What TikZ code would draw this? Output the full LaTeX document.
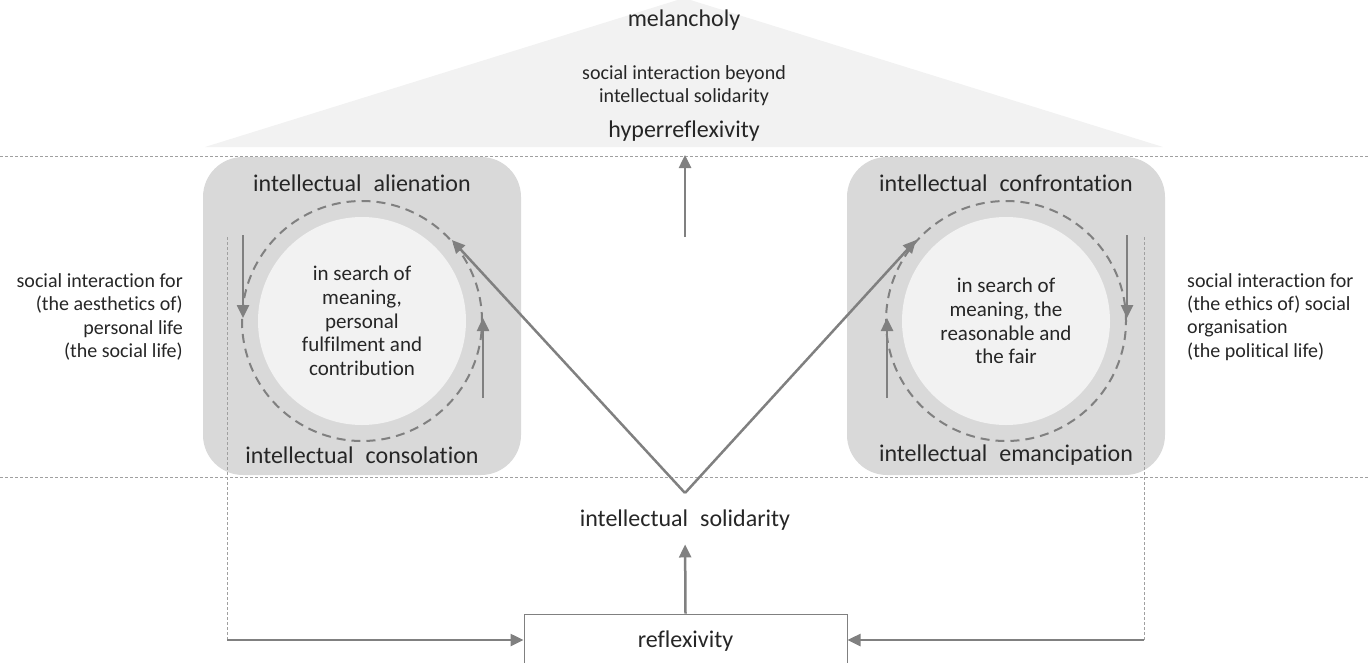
\documentclass[tikz,border=0pt]{standalone}
\usepackage{fontspec}
\setmainfont{Carlito}[RawFeature={-liga;-clig;-calt;-dlig}]
\usetikzlibrary{arrows.meta, positioning}

\definecolor{linegray}{HTML}{808080}
\definecolor{guidegray}{HTML}{A0A0A0}
\definecolor{boxgray}{HTML}{D9D9D9}
\definecolor{palegray}{HTML}{F2F2F2}
\definecolor{inkgray}{HTML}{262626}

\newcommand{\bigfont}{\fontsize{24}{28}\selectfont\spaceskip=0.5em\relax}
\newcommand{\smallfont}{\fontsize{20}{23.3}\selectfont}
\newcommand{\corefont}{\fontsize{21}{23.7}\selectfont}

\tikzset{
    bigtxt/.style={font=\bigfont, text=inkgray, inner sep=0pt},
    smalltxt/.style={font=\smallfont, text=inkgray, inner sep=0pt},
    roundbox/.style={fill=boxgray, rounded corners=40pt, minimum width=318pt, minimum height=318pt, inner sep=0pt},
    core/.style={circle, fill=palegray, minimum size=208pt, inner sep=0pt, font=\corefont, text=inkgray, align=center},
    ring/.style={circle, draw=linegray, line width=2pt, dash pattern=on 9pt off 6pt, minimum size=240pt, inner sep=0pt},
    flow/.style={draw=linegray, line width=2.5pt, -{Triangle[length=13pt, width=12pt]}},
    guide/.style={draw=guidegray, line width=0.8pt, dash pattern=on 3pt off 2pt},
    reflbox/.style={draw=linegray, fill=white, line width=1pt, minimum width=323pt, minimum height=54pt, font=\bigfont, text=inkgray}
}

\begin{document}
\begin{tikzpicture}[x=1pt, y=-1pt]
    \useasboundingbox (0,0) rectangle (1369,662);

    % --- Dach: Hyperreflexivitaet ---
    \fill[palegray] (205,147) -- (684,-2) -- (1163,147) -- cycle;
    \node[bigtxt] (melan) at (684,20) {melancholy};
    \node[smalltxt, align=center] (beyond) at (684,86) {social interaction beyond\\intellectual solidarity};
    \node[bigtxt] (hyper) at (684,131) {hyperreflexivity};

    % Trennlinien
    \draw[guide] (0,156) -- (1369,156);
    \draw[guide] (0,477) -- (1369,477);

    % --- linker Kreislauf ---
    \node[roundbox] (lbox) at (362,316) {};
    \node[core] (lcore) at (362,321) {in search of\\meaning,\\personal\\fulfilment and\\contribution};
    \node[ring] (lring) at (362,321) {};
    \node[bigtxt] (alien) at (362,183) {intellectual alienation};
    \node[bigtxt] (consol) at (362,455) {intellectual consolation};
    \draw[flow] (243,235) -- (243,318);
    \draw[flow] (483,398) -- (483,318);

    % --- rechter Kreislauf ---
    \node[roundbox] (rbox) at (1006,316) {};
    \node[core] (rcore) at (1006,321) {in search of\\meaning, the\\reasonable and\\the fair};
    \node[ring] (rring) at (1006,321) {};
    \node[bigtxt] (confront) at (1006,183) {intellectual confrontation};
    \node[bigtxt] (emanc) at (1006,455) {intellectual emancipation};
    \draw[flow] (887,398) -- (887,318);
    \draw[flow] (1127,235) -- (1127,318);

    % Seitentexte
    \node[smalltxt, align=right, anchor=east] (lside) at (183,317) {social interaction for\\(the aesthetics of)\\personal life\\(the social life)};
    \node[smalltxt, align=left, anchor=west] (rside) at (1187,317) {social interaction for\\(the ethics of) social\\organisation\\(the political life)};

    % --- Basis ---
    \node[bigtxt] (solid) at (685,520) {intellectual solidarity};
    \node[reflbox] (refl) at (685.5,641) {reflexivity};

    \coordinate (vtip) at (685,493);
    \draw[flow] (vtip) -- (lring.42);
    \draw[flow] (vtip) -- (rring.138);

    \coordinate (riseTail) at (685,237);
    \coordinate (riseHead) at (685,155);
    \draw[flow] (riseTail) -- (riseHead);

    \draw[flow, shorten >=14pt] (refl.north) -- (solid.south);

    % Rueckkopplung
    \coordinate (ltop) at (227,237);
    \coordinate (lfoot) at (227,640);
    \coordinate (rtop) at (1144,237);
    \coordinate (rfoot) at (1144,640);
    \draw[guide] (ltop) -- (lfoot);
    \draw[guide] (rtop) -- (rfoot);
    \draw[flow] (lfoot) -- (lfoot -| refl.west);
    \draw[flow] (rfoot) -- (rfoot -| refl.east);
\end{tikzpicture}
\end{document}
